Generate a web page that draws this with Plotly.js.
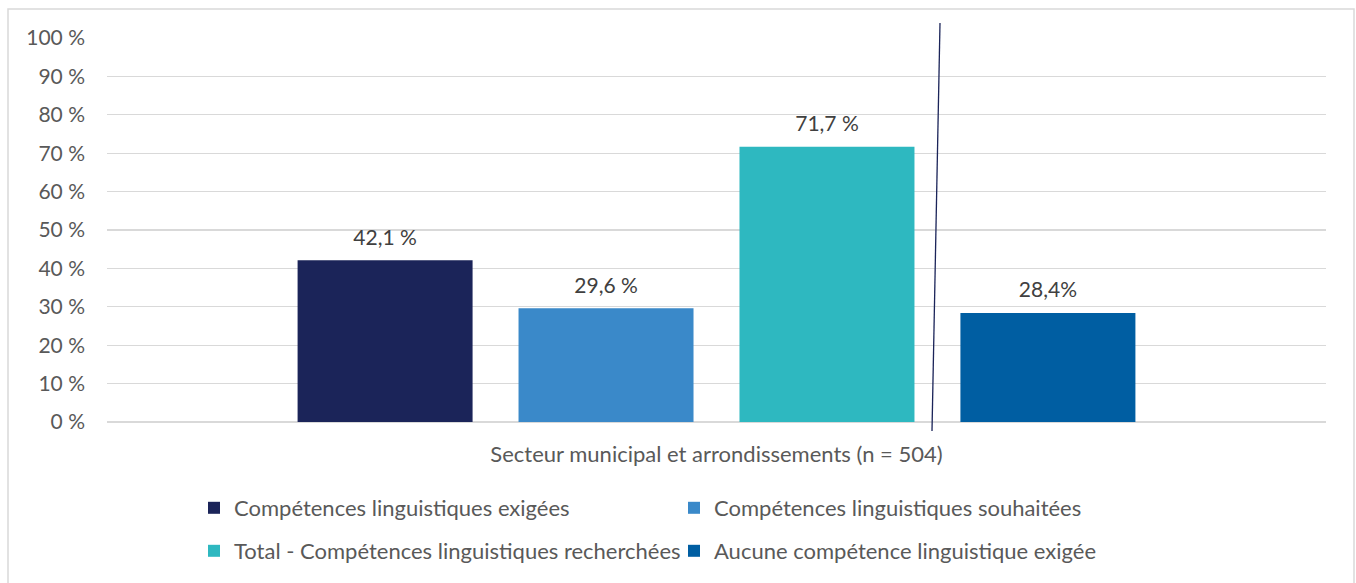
<!DOCTYPE html>
<html>
<head>
<meta charset="utf-8">
<script src="https://cdn.plot.ly/plotly-3.0.1.min.js"></script>
<style>html,body{margin:0;padding:0;background:#fff;}</style>
</head>
<body>
<div id="chart" style="width:1356px;height:583px;"></div>
<script>
const categories = ["Secteur municipal et arrondissements (n = 504)"];
const seriesNames = [
  "Compétences linguistiques exigées",
  "Compétences linguistiques souhaitées",
  "Total - Compétences linguistiques recherchées",
  "Aucune compétence linguistique exigée"
];
const seriesValues = [[42.1], [29.6], [71.7], [28.4]];
const valueLabels = [["42,1 %"], ["29,6 %"], ["71,7 %"], ["28,4%"]];
const yTickSuffix = " %";

const colors = ["#1b2459", "#3a89c9", "#2eb8c0", "#005ea2"];
const legendIds = ["legend", "legend", "legend2", "legend2"];
const FONT = "Lato, 'Open Sans', sans-serif";
const TXT = "#595959";

const bars = seriesNames.map((name, i) => ({
  type: "bar",
  name: name,
  x: categories,
  y: seriesValues[i],
  marker: {color: colors[i]},
  offsetgroup: "g" + i,
  alignmentgroup: "a",
  legend: legendIds[i],
  hoverinfo: "none"
}));

const labels = seriesNames.map((name, i) => ({
  type: "scatter",
  mode: "text+markers",
  name: name + " (étiquette)",
  x: categories,
  y: seriesValues[i],
  text: valueLabels[i],
  textposition: "top center",
  textfont: {family: FONT, size: 21, color: "#404040"},
  marker: {size: 15, opacity: 0, color: colors[i]},
  offsetgroup: "g" + i,
  alignmentgroup: "a",
  cliponaxis: false,
  showlegend: false,
  hoverinfo: "none"
}));

const W = 1356, H = 583, L = 107, R = 30, T = 38, B = 160;
const pw = W - L - R, ph = H - T - B;
const px = v => (v - L) / pw;
const py = v => (H - B - v) / ph;

const legendCommon = {
  orientation: "h",
  xanchor: "left",
  yanchor: "top",
  entrywidth: 435,
  entrywidthmode: "pixels",
  font: {family: FONT, size: 22, color: TXT},
  bgcolor: "rgba(0,0,0,0)"
};

const layout = {
  width: W, height: H,
  margin: {l: L, r: R, t: T, b: B},
  paper_bgcolor: "#ffffff",
  plot_bgcolor: "#ffffff",
  font: {family: FONT, size: 22, color: TXT},
  barmode: "group",
  scattermode: "group",
  bargap: 0.275,
  bargroupgap: 0.208,
  scattergap: 0.275,
  showlegend: true,
  xaxis: {
    type: "category",
    showgrid: false,
    showline: false,
    zeroline: false,
    ticks: "",
    ticklabelstandoff: 17,
    tickfont: {family: FONT, size: 22, color: TXT}
  },
  yaxis: {
    range: [0, 100],
    dtick: 10,
    tick0: 0,
    ticksuffix: yTickSuffix,
    showgrid: true,
    gridcolor: "#d9d9d9",
    gridwidth: 1.3,
    zeroline: true,
    zerolinecolor: "#d9d9d9",
    zerolinewidth: 1.3,
    showline: false,
    ticks: "",
    ticklabelstandoff: 21,
    tickfont: {family: FONT, size: 21, color: TXT}
  },
  legend: Object.assign({}, legendCommon, {x: px(194), y: py(487)}),
  legend2: Object.assign({}, legendCommon, {x: px(194), y: py(530)}),
  shapes: [
    {type: "rect", xref: "paper", yref: "paper",
     x0: px(8), x1: px(1354), y0: py(9), y1: py(600),
     line: {color: "#d9d9d9", width: 1.5}, fillcolor: "rgba(0,0,0,0)", layer: "below"},
    {type: "line", xref: "paper", yref: "paper",
     x0: px(940), y0: py(23), x1: px(932), y1: py(432),
     line: {color: "#1b2459", width: 1.3}}
  ]
};

Plotly.newPlot("chart", bars.concat(labels), layout, {displayModeBar: false, staticPlot: true});
</script>
</body>
</html>
